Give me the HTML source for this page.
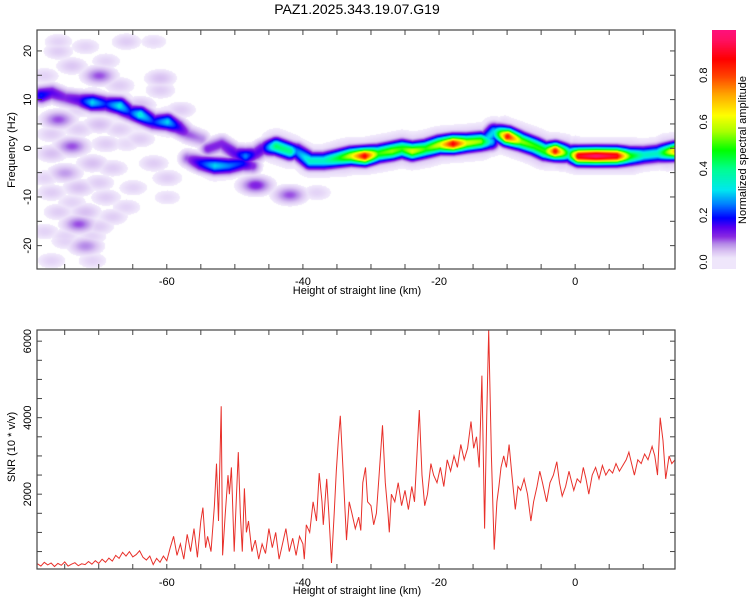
<!DOCTYPE html>
<html><head><meta charset="utf-8"><style>
body{margin:0;background:#fff;width:750px;height:600px;overflow:hidden;position:relative;font-family:"Liberation Sans",sans-serif}
canvas{position:absolute}
svg{position:absolute;left:0;top:0}
text{font-family:"Liberation Sans",sans-serif;fill:#000}
</style></head><body>
<canvas id="heat" width="638" height="239" style="left:37px;top:30px"></canvas>
<canvas id="cbar" width="24" height="239" style="left:712px;top:30px"></canvas>
<svg id="svg" width="750" height="600"></svg>
<script>
// ---- SNR data ----
const snrKm=[-79,-78.5,-78,-77.5,-77,-76.5,-76,-75.5,-75,-74.5,-74,-73.5,-73,-72.5,-72,-71.5,-71,-70.5,-70,-69.5,-69,-68.5,-68,-67.5,-67,-66.5,-66,-65.5,-65,-64.5,-64,-63.5,-63,-62.5,-62,-61.5,-61,-60.5,-60,-59.5,-59,-58.5,-58,-57.5,-57,-56.5,-56,-55.5,-55,-54.7,-54.3,-54,-53.5,-53,-52.7,-52.4,-52,-51.8,-51.4,-51,-50.8,-50.5,-50.1,-49.8,-49.5,-49.2,-48.9,-48.6,-48.3,-48,-47.5,-47,-46.5,-46,-45.5,-45,-44.5,-44,-43.5,-43,-42.5,-42,-41.5,-41,-40.5,-40,-39.8,-39.5,-39,-38.5,-38,-37.6,-37.2,-37,-36.5,-36.2,-35.8,-35.4,-35.1,-34.8,-34.5,-34.1,-33.6,-33.2,-32.8,-32.3,-31.8,-31.5,-31.2,-30.8,-30.5,-30,-29.6,-29.2,-28.8,-28.3,-27.9,-27.5,-27.3,-27,-26.5,-26,-25.5,-25,-24.5,-24,-23.6,-23.2,-22.9,-22.5,-22.1,-21.7,-21.2,-20.8,-20.3,-19.8,-19.3,-18.8,-18.3,-17.8,-17.3,-16.8,-16.3,-15.8,-15.3,-14.9,-14.5,-14.1,-13.7,-13.3,-13,-12.7,-12.3,-11.9,-11.5,-11.2,-10.9,-10.5,-10.1,-9.7,-9.3,-8.8,-8.4,-8,-7.5,-7,-6.5,-6.1,-5.6,-5.2,-4.8,-4.2,-3.7,-3.2,-2.7,-2.3,-1.9,-1.4,-0.9,-0.5,-0.2,0.3,0.8,1.2,1.6,2.0,2.5,3.0,3.5,4.0,4.5,5.0,5.5,6.0,6.5,7.0,7.5,7.9,8.3,8.7,9.2,9.7,10.2,10.7,11.3,11.7,12.1,12.5,12.9,13.3,13.8,14.2,14.67];
const snrVal=[180,120,220,150,200,110,190,140,230,120,170,210,130,180,160,240,170,260,190,300,220,330,250,400,320,480,380,500,360,420,520,350,280,380,160,320,220,380,260,600,900,400,700,300,950,500,1100,350,1300,1650,600,900,500,1700,2800,1300,4300,400,1500,2500,2000,2700,500,1800,3100,1500,500,2150,1000,1300,500,800,300,700,450,1100,600,1000,300,700,1100,500,850,400,900,700,300,1200,1000,1800,1300,2550,1800,1200,2400,1500,200,1500,2600,3400,4050,2600,800,1800,1500,1100,1400,1050,2300,2700,1800,1700,1200,1500,2500,3800,2300,1500,1000,2000,1800,2300,1700,2100,1600,2200,1800,3200,4200,2500,1700,2000,2800,2500,2300,2700,2200,2900,2600,3000,2700,3300,2900,3200,3900,3200,3500,2700,5100,1100,4000,6292,3000,550,1800,2200,2700,3000,2700,3300,2500,1600,2200,2100,2400,2000,1300,1800,2200,2600,2300,1800,2300,2500,2850,2300,1950,2200,2600,2300,2100,2400,2300,2700,2400,2000,2500,2700,2400,2750,2500,2650,2550,2800,2600,2750,2900,3100,2800,2500,2900,2800,3050,2900,3250,3000,2500,4000,3400,2400,3000,2800,2900];
// ---- spectrogram ridges: [km], [Hz], [amplitude] ----
const r1Km=[-78.5,-77,-75,-73,-71,-69,-67,-65.5,-64,-62,-60,-58.5,-57,-55];
const r1Hz=[11,11.5,10.5,10,9.5,9.2,8.8,7.5,7,5.5,5.5,4.5,3,2];
const r1Amp=[0.2,0.15,0.12,0.15,0.3,0.2,0.32,0.2,0.33,0.2,0.3,0.18,0.1,0.08];
const r2Km=[-57,-55,-53,-51,-49,-47.5];
const r2Hz=[-2,-3,-3.5,-3.5,-3,-3.5];
const r2Amp=[0.1,0.2,0.3,0.25,0.2,0.12];
const r3Km=[-54,-52,-50,-48.5,-47,-46,-44,-42,-41,-39,-37,-35,-33,-31,-29,-27,-25.5,-24,-22,-20,-18,-16,-14,-12.5];
const r3Hz=[0,1,-1,-1.5,-1,0,0.5,-0.5,-0.5,-2.5,-2.5,-2,-1.5,-1.5,-1,-0.5,0,-0.5,0,0.8,1,1.2,1.5,1.5];
const r3Amp=[0.12,0.12,0.15,0.25,0.15,0.15,0.42,0.4,0.25,0.35,0.35,0.45,0.6,0.88,0.5,0.55,0.5,0.6,0.5,0.6,0.88,0.6,0.55,0.3];
const r4Km=[-13,-12,-10,-8,-6,-4.5,-3,-1,0.5,3,6,8,10,12,14.6];
const r4Hz=[2,3.5,2.5,1.5,0.5,-0.5,-0.5,-1,-1.5,-1.5,-1.5,-1.5,-1.3,-1,-0.5];
const r4Amp=[0.3,0.3,0.85,0.55,0.5,0.5,0.85,0.4,0.9,0.97,0.9,0.5,0.35,0.35,0.7];
const noiseKm=[-76,-72,-74,-70,-67,-64,-61,-61,-76,-73,-70,-67,-74,-77,-71,-68,-75,-62,-77,-73,-69,-72,-76,-73,-70,-72,-77,-71,-60,-47,-42,-38,-60,-66,-62,-78,-65,-66,-78,-58,-64,-69,-75,5,10,-2,-28,-77,-74,-70,-66,-78,-75,-71,-68,-73,-64,-69,-76];
const noiseHz=[20,21,17,15,13,9,14.5,12,6,4,5,4,0.5,-1,-3,-4,-5,-3,-9,-8,-10,-13,-13,-15.5,-16,-20,-23,-23,-6,-7.5,-9.5,-9,-10,22,22,15,-8,-12,-17,8,2,1,-19,0.5,0.5,-3,-3,3,-11,-7,1,-6,-18,-18,-14,8,5,18,22];
const noiseAmp=[0.04,0.035,0.045,0.1,0.04,0.05,0.05,0.04,0.1,0.04,0.05,0.04,0.1,0.05,0.05,0.04,0.07,0.04,0.04,0.05,0.04,0.05,0.04,0.1,0.04,0.08,0.035,0.035,0.04,0.12,0.1,0.035,0.03,0.04,0.03,0.035,0.035,0.035,0.035,0.04,0.04,0.04,0.035,0.035,0.035,0.04,0.035,0.04,0.035,0.04,0.03,0.035,0.035,0.035,0.04,0.035,0.03,0.035,0.035];

const X0=-79.07,X1=14.67, L=37,R=675;
const xs=v=>L+(v-X0)/(X1-X0)*(R-L);
const T1=30,B1=269,F0=-24.8,F1=24.3;
const yf=v=>B1-(v-F0)/(F1-F0)*(B1-T1);
const T2=330,B2=569,S0=44,S1=6292;
const ys=v=>B2-(v-S0)/(S1-S0)*(B2-T2);

const stops=[[0,[255,255,255]],[0.02,[239,230,251]],[0.05,[216,192,242]],[0.08,[181,138,232]],[0.11,[138,43,226]],[0.15,[90,0,240]],[0.19,[0,0,255]],[0.25,[0,128,255]],[0.31,[0,232,240]],[0.4,[0,255,144]],[0.48,[0,255,0]],[0.56,[170,255,0]],[0.63,[255,255,0]],[0.72,[255,165,0]],[0.8,[255,64,0]],[0.87,[255,0,0]],[0.95,[255,16,96]],[1,[255,16,128]]];
function cmap(v){if(v<0.015)return[255,255,255];if(v>=1)return stops[stops.length-1][1];
for(let i=1;i<stops.length;i++){if(v<=stops[i][0]){const a=stops[i-1],b=stops[i];const t=(v-a[0])/(b[0]-a[0]);return a[1].map((c,k)=>c+(b[1][k]-c)*t);}}}

// heatmap
(function(){
const cv=document.getElementById('heat'),ctx=cv.getContext('2d');const W=cv.width,H=cv.height;
const img=ctx.createImageData(W,H);const segs=[];
[[r1Km,r1Hz,r1Amp],[r2Km,r2Hz,r2Amp],[r3Km,r3Hz,r3Amp],[r4Km,r4Hz,r4Amp]].forEach(([k,h,a])=>{
for(let i=0;i<k.length-1;i++)segs.push([xs(k[i])-L,yf(h[i])-T1,xs(k[i+1])-L,yf(h[i+1])-T1,a[i],a[i+1]]);});
const blobs=noiseKm.map((k,i)=>[xs(k)-L,yf(noiseHz[i])-T1,noiseAmp[i]]);
const s2=2*5.5*5.5,h2=2*11*11;
for(let y=0;y<H;y++)for(let x=0;x<W;x++){let v=0;
for(const s of segs){const dx=s[2]-s[0],dy=s[3]-s[1];let t=((x-s[0])*dx+(y-s[1])*dy)/(dx*dx+dy*dy);t=t<0?0:t>1?1:t;
const px=s[0]+dx*t-x,py=s[1]+dy*t-y,d=px*px+py*py;if(d>1600)continue;const a=s[4]+(s[5]-s[4])*t;
const f=Math.max(a*Math.exp(-d/s2),Math.min(a,0.5)*0.14*Math.exp(-d/h2));if(f>v)v=f;}
for(const b of blobs){const px=(b[0]-x)/1.8,py=b[1]-y,d=px*px+py*py;if(d>900)continue;const f=b[2]*Math.exp(-d/70);if(f>v)v=f;}
const c=cmap(v),o=(y*W+x)*4;img.data[o]=c[0];img.data[o+1]=c[1];img.data[o+2]=c[2];img.data[o+3]=255;}
ctx.putImageData(img,0,0);
const cb=document.getElementById('cbar').getContext('2d');
for(let y=0;y<239;y++){const v=(262-30-y)/(262-28.5);const c=cmap(Math.max(v,0.02));cb.fillStyle=`rgb(${c[0]|0},${c[1]|0},${c[2]|0})`;cb.fillRect(0,y,24,1);}
})();

const svg=document.getElementById('svg');const NS='http://www.w3.org/2000/svg';
function el(t,a,txt){const e=document.createElementNS(NS,t);for(const k in a)e.setAttribute(k,a[k]);if(txt!==undefined)e.textContent=txt;svg.appendChild(e);return e;}
function frame(T,B,name){const r=el('rect',{x:L,y:T,width:R-L,height:B-T,fill:'none',stroke:'#444','stroke-width':1.2});

}
function xTicks(T,B,ly){for(let k=-75;k<=10;k+=5){const x=xs(k);el('line',{x1:x,x2:x,y1:B,y2:B-5,stroke:'#444'});el('line',{x1:x,x2:x,y1:T,y2:T+5,stroke:'#444'});
if(k%20===0){const t=el('text',{x:x,y:ly,'font-size':11,'text-anchor':'middle'},String(k));

}}}
function yTicks(vals,labs,f){vals.forEach(v=>{const y=f(v);el('line',{x1:L,x2:L+5,y1:y,y2:y,stroke:'#444'});el('line',{x1:R,x2:R-5,y1:y,y2:y,stroke:'#444'});
if(labs.includes(v)){const t=el('text',{x:31,y:y,'font-size':11,'text-anchor':'middle',transform:`rotate(-90 31 ${y})`},String(v));

}});}

const title=el('text',{x:357,y:14,'font-size':14,'text-anchor':'middle'},'PAZ1.2025.343.19.07.G19');



frame(T1,B1,'spectrogram-frame');
xTicks(T1,B1,285);
yTicks([-20,-15,-10,-5,0,5,10,15,20],[-20,-10,0,10,20],yf);
let t=el('text',{x:357,y:294,'font-size':11,'text-anchor':'middle'},'Height of straight line (km)');


t=el('text',{x:15,y:150,'font-size':11,'text-anchor':'middle',transform:'rotate(-90 15 150)'},'Frequency (Hz)');



// colorbar labels
[0,0.2,0.4,0.6,0.8].forEach(v=>{const y=262-v*(262-28.5);const e=el('text',{x:707,y:y,'font-size':11,'text-anchor':'middle',transform:`rotate(-90 707 ${y})`},v.toFixed(1));

});
t=el('text',{x:746,y:150,'font-size':11,'text-anchor':'middle',transform:'rotate(-90 746 150)'},'Normalized spectral amplitude');



// SNR plot
let d='';snrKm.forEach((k,i)=>{d+=(i?'L':'M')+xs(k).toFixed(1)+' '+Math.max(T2,ys(snrVal[i])).toFixed(1);});
const line=el('path',{d:d,fill:'none',stroke:'#e8302a','stroke-width':1});


frame(T2,B2,'snr-frame');
xTicks(T2,B2,586);
yTicks([500,1000,1500,2000,2500,3000,3500,4000,4500,5000,5500,6000],[2000,4000,6000],ys);
t=el('text',{x:357,y:594,'font-size':11,'text-anchor':'middle'},'Height of straight line (km)');


t=el('text',{x:15,y:447,'font-size':11,'text-anchor':'middle',transform:'rotate(-90 15 447)'},'SNR (10 * v/v)');


</script>
</body></html>
